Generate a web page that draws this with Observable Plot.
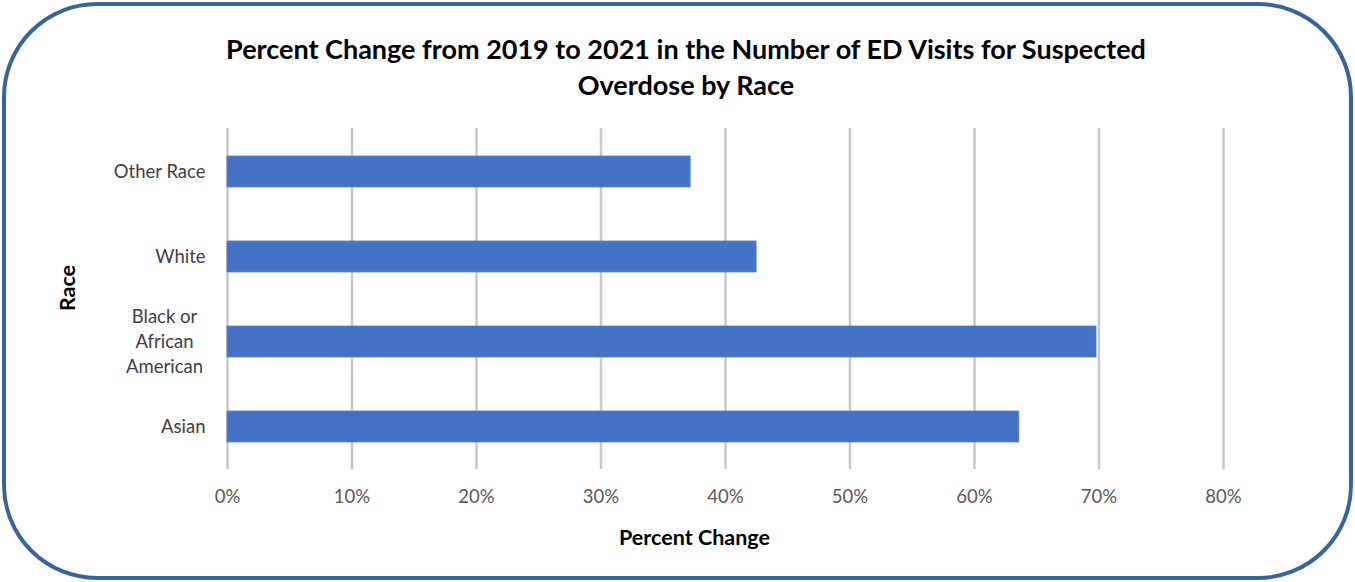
<!DOCTYPE html>
<html>
<head>
<meta charset="utf-8">
<script src="https://cdn.jsdelivr.net/npm/d3@7"></script>
<script src="https://cdn.jsdelivr.net/npm/@observablehq/plot@0.6"></script>
<style>
  html, body { margin: 0; padding: 0; background: #fff; }
  #wrap { position: relative; width: 1355px; height: 582px; overflow: hidden; font-family: Lato, "Open Sans", sans-serif; }
  #frame { position: absolute; left: 2px; top: 2px; width: 1343px; height: 570px; border: 4px solid #3a6499; border-radius: 95px; pointer-events: none; }
  #title { position: absolute; left: 0; width: 1372px; top: 31px; text-align: center; font-weight: bold; font-size: 27px; line-height: 36px; color: #000; }
  #chart { position: absolute; left: 0; top: 0; }
</style>
</head>
<body>
<div id="wrap">
  <div id="chart"></div>
  <div id="title">Percent Change from 2019 to 2021 in the Number of ED Visits for Suspected<br>Overdose by Race</div>
  <div id="frame"></div>
</div>
<script>
const races = ["Other Race", "White", "Black or African American", "Asian"];
const raceLabels = ["Other Race", "White", "Black or\nAfrican\nAmerican", "Asian"];
const pctChange = [0.372, 0.425, 0.698, 0.636];
const xTicks = [0, 0.1, 0.2, 0.3, 0.4, 0.5, 0.6, 0.7, 0.8];

const data = races.map((r, i) => ({race: r, label: raceLabels[i], value: pctChange[i], wrapped: raceLabels[i].includes("\n")}));

const chart = Plot.plot({
  width: 1355,
  height: 582,
  marginLeft: 227,
  marginRight: 132,
  marginTop: 128,
  marginBottom: 113,
  style: {fontFamily: "Lato, 'Open Sans', sans-serif", background: "transparent"},
  x: {domain: [0, 0.8], axis: null},
  y: {domain: races, paddingInner: 0.64, paddingOuter: 0.32, axis: null},
  marks: [
    Plot.ruleX(xTicks, {stroke: "#c8c8c8", strokeWidth: 2.5}),
    Plot.barX(data, {x: "value", y: "race", fill: "#4472c4", stroke: "#5a7fbf", strokeWidth: 0.8}),
    Plot.text(xTicks, {x: d => d, frameAnchor: "bottom", dy: 33, text: d => d3.format(".0%")(d), fill: "#595959", fontSize: 18.5}),
    Plot.text(data.filter(d => !d.wrapped), {y: "race", frameAnchor: "left", dx: -22, textAnchor: "end", text: "label", fill: "#404040", fontSize: 18.5}),
    Plot.text(data.filter(d => d.wrapped), {y: "race", frameAnchor: "left", dx: -63, dy: -2, textAnchor: "middle", text: "label", lineHeight: 1.36, fill: "#404040", fontSize: 18.5}),
    Plot.text(["Percent Change"], {frameAnchor: "bottom", dx: -31, dy: 75, text: d => d, fontWeight: "bold", fontSize: 21.5, fill: "#000"}),
    Plot.text(["Race"], {frameAnchor: "left", textAnchor: "middle", dx: -159, dy: -11, rotate: -90, text: d => d, fontWeight: "bold", fontSize: 21.5, fill: "#000"})
  ]
});
document.getElementById("chart").appendChild(chart);
</script>
</body>
</html>
